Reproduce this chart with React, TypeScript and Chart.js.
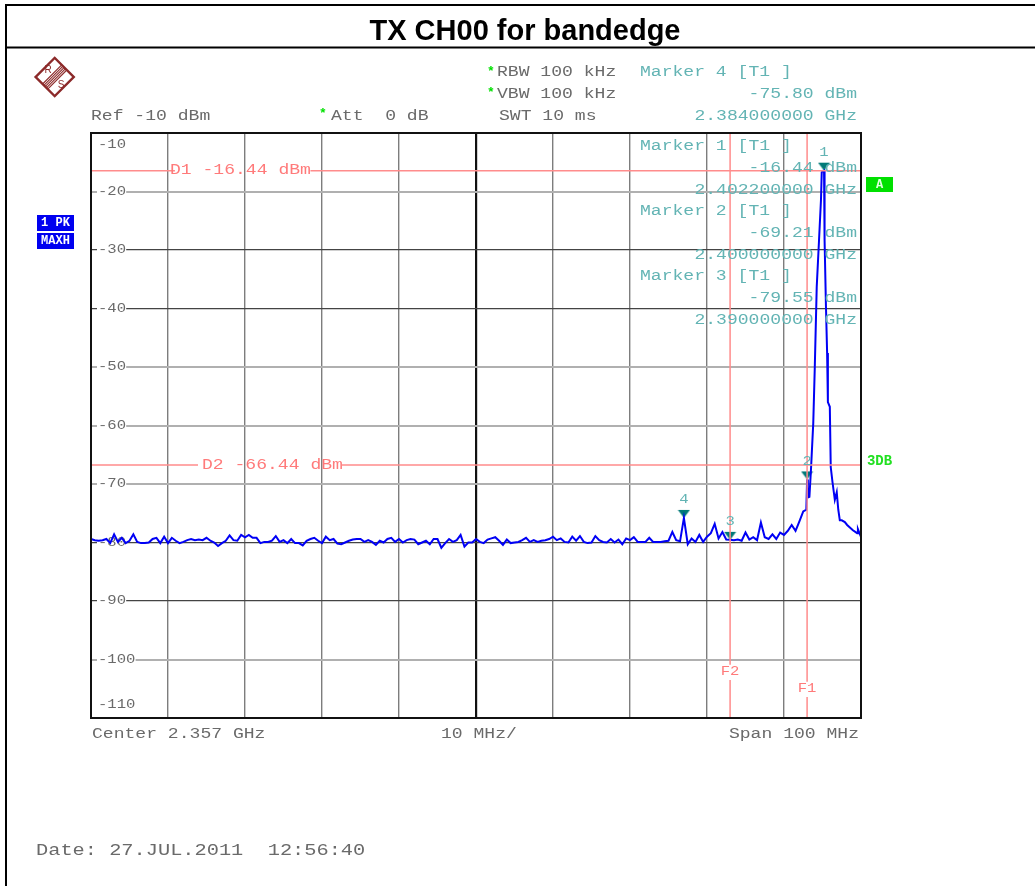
import React, { useEffect, useRef } from "react";
import Chart from "chart.js/auto";

const titleText = "TX CH00 for bandedge";
const freqTicksMHz = [2307, 2317, 2327, 2337, 2347, 2357, 2367, 2377, 2387, 2397, 2407];
const levelTicks = [-110, -100, -90, -80, -70, -60, -50, -40, -30, -20, -10];

const floorStartMHz = 2307;
const floorStepMHz = 0.5;
const floorLevels = [
  -79.4, -79.6, -79.7, -79.6, -79.4, -80.1, -78.6, -79.9, -79.2, -80.1,
  -79.7, -78.6, -79.9, -80.1, -80.1, -80.0, -79.4, -79.2, -80.1, -79.0,
  -80.1, -79.2, -79.7, -80.1, -79.9, -79.6, -79.4, -79.6, -79.5, -79.6,
  -79.2, -79.7, -80.0, -80.6, -80.1, -79.7, -78.8, -79.6, -79.7, -78.7,
  -79.1, -78.7, -79.2, -79.2, -80.1, -79.9, -79.9, -79.7, -78.9, -79.9,
  -79.6, -80.1, -79.4, -80.1, -80.1, -80.5, -79.7, -79.4, -79.2, -79.7,
  -80.1, -79.0, -79.6, -79.4, -80.2, -80.3, -80.0, -79.7, -79.5, -79.4,
  -79.4, -79.9, -79.6, -79.9, -80.4, -79.7, -80.0, -79.4, -79.2, -79.9,
  -79.4, -80.0, -79.6, -79.4, -79.5, -80.3, -80.0, -79.7, -80.3, -79.4,
  -79.4, -80.9, -80.1, -79.4, -79.9, -79.6, -78.7, -80.7, -80.0, -80.0,
  -79.4, -79.9, -80.1, -79.5, -79.3, -79.1, -79.7, -80.4, -79.5, -80.1,
  -80.0, -79.9, -79.6, -79.2, -79.9, -79.6, -79.9, -79.7, -79.6, -79.4,
  -79.0, -79.6, -79.3, -79.9, -80.0, -79.0, -79.7, -78.9, -79.9, -80.1,
  -80.0, -78.9, -79.6, -79.9, -80.0, -79.4, -80.0, -79.5, -80.3, -79.3,
  -79.6, -79.1, -79.9, -79.9, -79.9, -79.2, -79.9, -79.9, -79.9, -79.8,
  -79.7, -78.2, -79.6, -79.8, -75.8, -80.3, -79.3, -79.9, -78.7, -79.9,
  -79.0, -78.4, -76.8, -79.3, -78.2, -79.5, -79.55, -79.6, -79.5, -79.7,
  -78.3, -79.5, -79.1, -79.6, -76.6, -79.1, -79.4, -78.6, -79.4, -78.3,
  -78.7, -78.0, -77.0, -78.0, -76.4, -74.7,
];

const peakFreqMHz = [
  2399.9, 2400.0, 2400.1, 2400.3, 2400.5, 2400.8, 2401.0, 2401.25, 2401.55, 2401.8, 2401.9,
  2402.2, 2402.27, 2402.45, 2402.6, 2402.7, 2402.95, 2403.07, 2403.3, 2403.6, 2403.85,
  2404.05, 2404.25, 2404.5, 2404.9, 2405.2, 2405.95, 2406.5, 2406.6, 2406.95, 2407,
];
const peakLevels = [
  -74.4, -69.21, -72.3, -72.2, -67.6, -59.6, -50.0, -36.3, -28.3, -21.5, -16.7,
  -16.44, -28.3, -39.7, -47.6, -56.0, -56.8, -67.1, -69.7, -72.7, -71.4,
  -74.4, -76.2, -76.2, -76.5, -77.0, -77.9, -78.4, -77.7, -78.9, -79.0,
];

const markerFreqMHz = [2402.2, 2400, 2390, 2384];
const markerLevels = [-16.44, -69.21, -79.55, -75.8];
const markerNames = ["1", "2", "3", "4"];

const displayLine1 = -16.44;
const displayLine2 = -66.75;
const displayLine1Text = "D1 -16.44 dBm";
const displayLine2Text = "D2 -66.44 dBm";
const line1GapMHz = [2317.9, 2335.5];
const line2GapMHz = [2320.9, 2339.6];
const freqLine1 = 2400;
const freqLine2 = 2390;
const freqLine1Gap = [-103.8, -106.4];
const freqLine2Gap = [-100.9, -103.5];

const INSTR = "'Liberation Mono', monospace";
const GREY = "#6a6a6a";
const TEAL = "#63b4b4";
const RED = "#ff7a7a";
const LINE_RED = "#ff8c8c";
const BLUE = "#0000f5";
const MARK = "#007a78";
const TRACE_INDEX = 4;

const darkRows = new Set([-30, -40, -80, -90]);

function label(c: CanvasRenderingContext2D, s: string, x: number, y: number, color = GREY, size = 14, sx = 1.29, align = "left") {
  c.save();
  c.filter = "blur(0.4px)";
  c.font = `${size}px ${INSTR}`;
  c.fillStyle = color;
  c.textBaseline = "middle";
  c.textAlign = align as CanvasTextAlign;
  c.translate(x, y);
  c.scale(sx, 1);
  c.fillText(s, 0, 0);
  c.restore();
}

function star(c: CanvasRenderingContext2D, x: number, y: number) {
  c.save();
  c.font = `bold 13px ${INSTR}`;
  c.fillStyle = "#00e000";
  c.textAlign = "center";
  c.textBaseline = "middle";
  c.fillText("*", x, y);
  c.restore();
}

function drawLogo(c: CanvasRenderingContext2D) {
  c.save();
  c.translate(54.7, 77);
  c.rotate(Math.PI / 4);
  c.strokeStyle = "#8c2a2a";
  c.lineWidth = 2.4;
  c.strokeRect(-13.5, -13.5, 27, 27);
  c.lineWidth = 1.1;
  [-3.6, -1.8, 0, 1.8, 3.6].forEach((d) => {
    c.beginPath();
    c.moveTo(d, -13.5);
    c.lineTo(d, 13.5);
    c.stroke();
  });
  c.restore();
  c.save();
  c.font = "10px 'Liberation Sans'";
  c.fillStyle = "#8c2a2a";
  c.textAlign = "center";
  c.textBaseline = "middle";
  c.fillText("R", 48, 70);
  c.fillText("S", 61, 85);
  c.restore();
}

const pagePlugin = {
  id: "page",
  beforeDraw(chart: any) {
    const c = chart.ctx as CanvasRenderingContext2D;
    c.save();
    c.fillStyle = "#fff";
    c.fillRect(0, 0, 1035, 886);
    c.strokeStyle = "#000";
    c.lineWidth = 2;
    c.beginPath();
    c.moveTo(1035, 5);
    c.lineTo(6, 5);
    c.lineTo(6, 886);
    c.moveTo(6, 47.5);
    c.lineTo(1035, 47.5);
    c.stroke();
    c.fillStyle = "#000";
    c.font = "bold 29px 'Liberation Sans'";
    c.textAlign = "center";
    c.textBaseline = "middle";
    c.fillText(titleText, 525, 32);
    c.restore();
  },
  beforeDatasetsDraw(chart: any) {
    const c = chart.ctx as CanvasRenderingContext2D;
    const y = chart.scales.y;
    const area = chart.chartArea;
    y.ticks.forEach((t: any) => {
      const px = y.getPixelForValue(t.value);
      const txt = String(t.value);
      const w = txt.length * 9.4;
      const edge = t.value === -10 ? 12 : t.value === -110 ? -13 : 0;
      if (!edge) {
        c.fillStyle = "#fff";
        c.fillRect(area.left + 6, px - 3, w + 1, 6);
      }
      label(c, txt, area.left + 7, px + edge, GREY, 13, 1.2);
    });
  },
  beforeDatasetDraw(chart: any, args: any) {
    if (args.index === TRACE_INDEX) chart.ctx.filter = "blur(0.5px)";
  },
  afterDatasetDraw(chart: any, args: any) {
    if (args.index === TRACE_INDEX) chart.ctx.filter = "none";
  },
  afterDatasetsDraw(chart: any) {
    const c = chart.ctx as CanvasRenderingContext2D;
    const a = chart.chartArea;
    c.save();
    c.strokeStyle = "#111";
    c.lineWidth = 2;
    c.strokeRect(a.left, a.top, a.right - a.left, a.bottom - a.top);
    c.restore();

    drawLogo(c);

    label(c, "Ref -10 dBm", 91, 116);
    star(c, 323, 114);
    label(c, "Att  0 dB", 331, 116);
    star(c, 491, 72);
    label(c, "RBW 100 kHz", 497, 72);
    star(c, 491, 93);
    label(c, "VBW 100 kHz", 497, 94);
    label(c, "SWT 10 ms", 499, 116);

    const right = 857;
    const rows: [string, string, string, number][] = [
      ["Marker 4 [T1 ]", "-75.80 dBm", "2.384000000 GHz", 72],
      ["Marker 1 [T1 ]", "-16.44 dBm", "2.402200000 GHz", 146],
      ["Marker 2 [T1 ]", "-69.21 dBm", "2.400000000 GHz", 211],
      ["Marker 3 [T1 ]", "-79.55 dBm", "2.390000000 GHz", 276],
    ];
    rows.forEach(([m, l, f, yy]) => {
      label(c, m, 640, yy, TEAL);
      label(c, l, right, yy + 22, TEAL, 14, 1.29, "right");
      label(c, f, right, yy + 44, TEAL, 14, 1.29, "right");
    });

    const xs = chart.scales.x;
    const ys = chart.scales.y;
    markerNames.forEach((n, i) => {
      label(c, n, xs.getPixelForValue(markerFreqMHz[i]), ys.getPixelForValue(markerLevels[i]) - 18, TEAL, 13, 1.2, "center");
    });

    label(c, displayLine1Text, 170, ys.getPixelForValue(displayLine1), RED);
    label(c, displayLine2Text, 202, ys.getPixelForValue(displayLine2), RED);
    label(c, "F2", xs.getPixelForValue(freqLine2), 672, RED, 13, 1.2, "center");
    label(c, "F1", xs.getPixelForValue(freqLine1), 689, RED, 13, 1.2, "center");

    label(c, "Center 2.357 GHz", 92, 734);
    label(c, "10 MHz/", 441, 734);
    label(c, "Span 100 MHz", 859, 734, GREY, 14, 1.29, "right");
    label(c, "Date: 27.JUL.2011  12:56:40", 36, 851, GREY, 16, 1.27);

    c.save();
    c.fillStyle = "#0000f0";
    c.fillRect(37, 215, 37, 16);
    c.fillRect(37, 233, 37, 16);
    c.fillStyle = "#00e000";
    c.fillRect(866, 177, 27, 15);
    c.restore();
    const boxLabel = (s: string, x: number, y: number, col: string, size = 11) => {
      c.save();
      c.font = `bold ${size}px ${INSTR}`;
      c.fillStyle = col;
      c.textAlign = "center";
      c.textBaseline = "middle";
      c.fillText(s, x, y);
      c.restore();
    };
    boxLabel("1 PK", 55.5, 223, "#fff", 12);
    boxLabel("MAXH", 55.5, 241, "#fff", 12);
    boxLabel("A", 879.5, 185, "#dfffdf", 12);
    boxLabel("3DB", 879.5, 461, "#22e022", 14);
  },
};

function makeMarkerImage() {
  const m = document.createElement("canvas");
  m.width = 13;
  m.height = 20;
  const g = m.getContext("2d")!;
  g.fillStyle = MARK;
  g.beginPath();
  g.moveTo(0.5, 2);
  g.lineTo(12.5, 2);
  g.lineTo(6.5, 10);
  g.closePath();
  g.fill();
  return m;
}

export default function App() {
  const ref = useRef<HTMLCanvasElement>(null);
  useEffect(() => {
    const trace = [
      ...floorLevels.map((v, i) => ({ x: floorStartMHz + i * floorStepMHz, y: v })),
      ...peakLevels.map((v, i) => ({ x: peakFreqMHz[i], y: v })),
    ];
    const xMin = freqTicksMHz[0];
    const xMax = freqTicksMHz[freqTicksMHz.length - 1];
    const yMin = levelTicks[0];
    const yMax = levelTicks[levelTicks.length - 1];
    const lineStyle = {
      borderColor: LINE_RED,
      borderWidth: 1.5,
      pointRadius: 0,
      spanGaps: false,
      tension: 0,
    };
    const chart = new Chart(ref.current!, {
      type: "scatter",
      data: {
        datasets: [
          {
            label: "D1",
            showLine: true,
            ...lineStyle,
            data: [
              { x: xMin, y: displayLine1 },
              { x: line1GapMHz[0], y: displayLine1 },
              { x: line1GapMHz[0], y: null },
              { x: line1GapMHz[1], y: displayLine1 },
              { x: xMax, y: displayLine1 },
            ],
          },
          {
            label: "D2",
            showLine: true,
            ...lineStyle,
            data: [
              { x: xMin, y: displayLine2 },
              { x: line2GapMHz[0], y: displayLine2 },
              { x: line2GapMHz[0], y: null },
              { x: line2GapMHz[1], y: displayLine2 },
              { x: xMax, y: displayLine2 },
            ],
          },
          {
            label: "F1",
            showLine: true,
            ...lineStyle,
            data: [
              { x: freqLine1, y: yMax },
              { x: freqLine1, y: freqLine1Gap[0] },
              { x: freqLine1, y: null },
              { x: freqLine1, y: freqLine1Gap[1] },
              { x: freqLine1, y: yMin },
            ],
          },
          {
            label: "F2",
            showLine: true,
            ...lineStyle,
            data: [
              { x: freqLine2, y: yMax },
              { x: freqLine2, y: freqLine2Gap[0] },
              { x: freqLine2, y: null },
              { x: freqLine2, y: freqLine2Gap[1] },
              { x: freqLine2, y: yMin },
            ],
          },
          {
            label: "Trace 1",
            showLine: true,
            data: trace,
            borderColor: BLUE,
            borderWidth: 2,
            pointRadius: 0,
            tension: 0,
          },
          {
            label: "Markers",
            showLine: false,
            data: markerFreqMHz.map((f, i) => ({ x: f, y: markerLevels[i] })),
            pointStyle: makeMarkerImage(),
            pointRadius: 6,
          },
        ],
      },
      options: {
        responsive: false,
        animation: false,
        devicePixelRatio: 1,
        layout: { padding: { left: 91, top: 133, right: 174, bottom: 168 } },
        plugins: { legend: { display: false }, tooltip: { enabled: false } },
        scales: {
          x: {
            type: "linear",
            min: xMin,
            max: xMax,
            afterBuildTicks: (s: any) => {
              s.ticks = freqTicksMHz.map((value) => ({ value }));
            },
            ticks: { display: false },
            border: { display: false },
            grid: {
              drawTicks: false,
              color: (ctx: any) => (ctx.tick.value === 2357 ? "#111" : "#7d7d7d"),
              lineWidth: (ctx: any) => (ctx.tick.value === 2357 ? 2.2 : 1.4),
            },
          },
          y: {
            type: "linear",
            min: yMin,
            max: yMax,
            afterBuildTicks: (s: any) => {
              s.ticks = levelTicks.map((value) => ({ value }));
            },
            ticks: { display: false },
            border: { display: false },
            grid: {
              drawTicks: false,
              color: (ctx: any) => (darkRows.has(ctx.tick.value) ? "#444" : "#b0b0b0"),
              lineWidth: (ctx: any) => (darkRows.has(ctx.tick.value) ? 1.3 : 2),
            },
          },
        },
      },
      plugins: [pagePlugin],
    } as any);
    return () => chart.destroy();
  }, []);
  return (
    <canvas
      ref={ref}
      width={1035}
      height={886}
      style={{ position: "absolute", left: 0, top: 0, display: "block", width: 1035, height: 886 }}
    />
  );
}
